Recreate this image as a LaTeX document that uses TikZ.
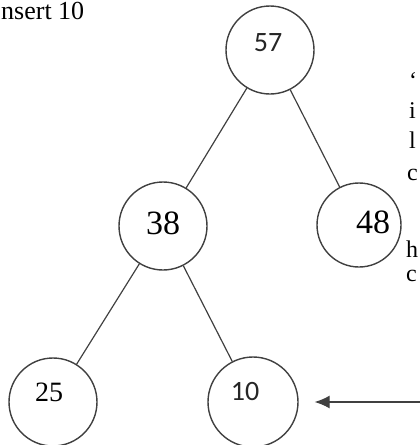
\documentclass[tikz,border=0pt]{standalone}
\usepackage{fontspec}
\setmainfont{Liberation Serif}
\newfontfamily\calibri{Carlito}
\usetikzlibrary{arrows.meta, positioning}

\begin{document}
\begin{tikzpicture}[
    x=1pt, y=-1pt,
    heapnode/.style={draw=black!75, line width=1.4pt, circle, minimum size=#1, inner sep=0pt},
    heapnode/.default=88pt,
    edge/.style={draw=black!75, line width=1.2pt},
    numserif/.style={inner sep=0pt, font=\fontsize{28}{30}\selectfont},
    numbig/.style={inner sep=0pt, font=\fontsize{34}{36}\selectfont},
    numsans/.style={inner sep=0pt, font=\calibri\fontsize{28}{30}\selectfont, text=black!85},
    note/.style={inner sep=0pt, anchor=base west, font=\fontsize{24}{26}\selectfont}
]
    \useasboundingbox (0,0) rectangle (420,445);
    \clip (0,0) rectangle (420,445);

    % ================= CAPTION =================
    \node[inner sep=0pt, anchor=base west, font=\fontsize{26}{28}\selectfont] (title) at (1,19) {nsert 10};

    % ================= HEAP NODES =================
    \node[heapnode] (n57) at (270,50) {};
    \node[heapnode] (n38) at (163,226) {};
    \node[heapnode=84pt] (n48) at (359,225) {};
    \node[heapnode] (n25) at (53,402) {};
    \node[heapnode=90pt] (n10) at (253,402) {};

    % Values (not centred in the circles)
    \node[numsans] (t57) at (268,43) {57};
    \node[numbig] (t38) at (163,223) {38};
    \node[numbig] (t48) at (373,222) {48};
    \node[numserif] (t25) at (49,392) {25};
    \node[numsans] (t10) at (245,392) {10};

    % ================= EDGES =================
    \draw[edge] (n57) -- (n38);
    \draw[edge] (n57) -- (n48);
    \draw[edge] (n38) -- (n25);
    \draw[edge] (n38) -- (n10);

    % Pointer to the new element
    \coordinate (tail) at (425,402);
    \draw[edge, -{Latex[length=15pt, width=13pt]}, shorten >=16pt] (tail) -- (n10);

    % ================= CUT-OFF NOTE =================
    \node[note] (c1) at (409,88) {‘};
    \node[note] (c2) at (409,118) {i};
    \node[note] (c3) at (409,148) {l};
    \node[note] (c4) at (407,180) {c};
    \node[note] (c5) at (406,257) {h};
    \node[note] (c6) at (406,281) {c};

\end{tikzpicture}
\end{document}
